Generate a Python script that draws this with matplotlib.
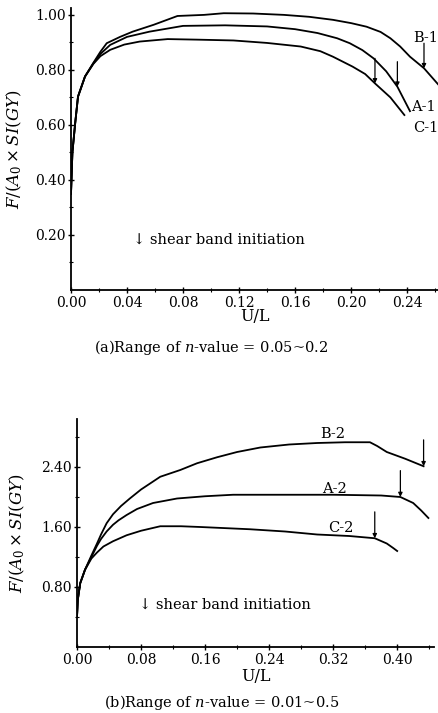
import numpy as np
import matplotlib
matplotlib.use("Agg")
import matplotlib.pyplot as plt
from matplotlib.ticker import FixedLocator

plt.rcParams['font.family'] = ['DejaVu Serif']
plt.rcParams['mathtext.fontset'] = 'dejavuserif'

# ---------------- data: panel (a) ----------------
a_B1_x = [0.0, 0.001, 0.003, 0.005, 0.010, 0.016, 0.021, 0.0255, 0.035, 0.044, 0.059, 0.076, 0.095, 0.109, 0.130, 0.152, 0.170, 0.187, 0.200, 0.211, 0.221, 0.228, 0.235, 0.242, 0.252, 0.262]
a_B1_y = [0.35, 0.50, 0.607, 0.703, 0.776, 0.826, 0.866, 0.897, 0.920, 0.939, 0.964, 0.996, 1.000, 1.006, 1.005, 1.000, 0.993, 0.982, 0.970, 0.957, 0.938, 0.915, 0.885, 0.848, 0.806, 0.748]
a_A1_x = [0.0, 0.001, 0.003, 0.005, 0.010, 0.016, 0.021, 0.028, 0.040, 0.056, 0.080, 0.110, 0.140, 0.160, 0.176, 0.190, 0.199, 0.208, 0.216, 0.225, 0.233, 0.242]
a_A1_y = [0.35, 0.50, 0.607, 0.703, 0.776, 0.824, 0.858, 0.891, 0.920, 0.939, 0.960, 0.962, 0.958, 0.948, 0.934, 0.915, 0.897, 0.872, 0.842, 0.795, 0.739, 0.650]
a_C1_x = [0.0, 0.001, 0.003, 0.005, 0.010, 0.016, 0.021, 0.028, 0.038, 0.049, 0.069, 0.090, 0.116, 0.140, 0.164, 0.178, 0.187, 0.201, 0.210, 0.217, 0.228, 0.238]
a_C1_y = [0.35, 0.50, 0.607, 0.703, 0.776, 0.822, 0.850, 0.873, 0.892, 0.903, 0.912, 0.910, 0.907, 0.898, 0.885, 0.868, 0.848, 0.812, 0.785, 0.751, 0.700, 0.636]
a_arrow_x = [0.252, 0.233, 0.217]
a_labels = ["B-1", "A-1", "C-1"]
a_label_x = [0.2445, 0.2425, 0.2445]
a_label_y = [0.915, 0.665, 0.590]

# ---------------- data: panel (b) ----------------
b_B2_x = [0.0, 0.001, 0.004, 0.010, 0.018, 0.025, 0.030, 0.037, 0.045, 0.055, 0.066, 0.080, 0.104, 0.129, 0.150, 0.175, 0.200, 0.229, 0.265, 0.300, 0.335, 0.366, 0.375, 0.387, 0.410, 0.433]
b_B2_y = [0.40, 0.63, 0.85, 1.03, 1.22, 1.38, 1.50, 1.65, 1.77, 1.88, 1.98, 2.10, 2.27, 2.36, 2.45, 2.53, 2.60, 2.66, 2.70, 2.72, 2.73, 2.73, 2.68, 2.60, 2.51, 2.41]
b_A2_x = [0.0, 0.001, 0.004, 0.010, 0.018, 0.025, 0.030, 0.037, 0.045, 0.052, 0.062, 0.075, 0.095, 0.125, 0.160, 0.195, 0.260, 0.320, 0.380, 0.404, 0.412, 0.420, 0.430, 0.439]
b_A2_y = [0.40, 0.63, 0.85, 1.03, 1.20, 1.35, 1.44, 1.54, 1.63, 1.69, 1.76, 1.84, 1.92, 1.98, 2.01, 2.03, 2.03, 2.03, 2.02, 2.00, 1.96, 1.92, 1.82, 1.72]
b_C2_x = [0.0, 0.001, 0.004, 0.010, 0.018, 0.025, 0.033, 0.045, 0.062, 0.080, 0.104, 0.130, 0.154, 0.216, 0.260, 0.300, 0.340, 0.372, 0.387, 0.395, 0.400]
b_C2_y = [0.40, 0.63, 0.85, 1.03, 1.18, 1.26, 1.34, 1.41, 1.49, 1.55, 1.61, 1.61, 1.60, 1.57, 1.54, 1.50, 1.48, 1.45, 1.38, 1.32, 1.28]
b_arrow_x = [0.433, 0.404, 0.372]
b_labels = ["B-2", "A-2", "C-2"]
b_label_x = [0.304, 0.306, 0.314]
b_label_y = [2.84, 2.10, 1.58]

fig = plt.figure(figsize=(4.38, 7.13), dpi=100)
W, H = 438.0, 713.0

# panel (a)
ax1 = fig.add_axes([71 / W, 1 - 290 / H, (438 - 71) / W, (290 - 8) / H])
ax1.set_xlim(0, 0.262)
ax1.set_ylim(0, 1.025)
curves_a = [(a_B1_x, a_B1_y), (a_A1_x, a_A1_y), (a_C1_x, a_C1_y)]
for (cx, cy), ax_, lab, lx, ly in zip(curves_a, a_arrow_x, a_labels, a_label_x, a_label_y):
    ax1.plot(cx, cy, color='black', lw=1.3)
    tip = np.interp(ax_, cx, cy)
    ax1.annotate('', xy=(ax_, tip), xytext=(0, 18), textcoords='offset points',
                 arrowprops=dict(arrowstyle='-|>', color='black', lw=0.9,
                                 mutation_scale=6, shrinkA=0, shrinkB=0))
    ax1.text(lx, ly, lab, fontsize=10.5, ha='left', va='center')
ax1.text(0.044, 0.182, u'\u2193 shear band initiation', fontsize=10.5, ha='left', va='center')

ax1.set_xticks([0.00, 0.04, 0.08, 0.12, 0.16, 0.20, 0.24])
ax1.set_xticklabels(['0.00', '0.04', '0.08', '0.12', '0.16', '0.20', '0.24'])
ax1.xaxis.set_minor_locator(FixedLocator([0.02, 0.06, 0.10, 0.14, 0.18, 0.22, 0.26]))
ax1.set_yticks([0.2, 0.4, 0.6, 0.8, 1.0])
ax1.set_yticklabels(['0.20', '0.40', '0.60', '0.80', '1.00'])
ax1.yaxis.set_minor_locator(FixedLocator([0.1, 0.3, 0.5, 0.7, 0.9]))
ax1.set_xlabel('U/L', fontsize=11.5, labelpad=-1)
ax1.set_ylabel(r'$F/(A_0\times SI(GY)$', fontsize=12, labelpad=8)

# panel (b)
ax2 = fig.add_axes([77 / W, 1 - 647 / H, (434 - 77) / W, (647 - 419) / H])
ax2.set_xlim(0, 0.446)
ax2.set_ylim(0, 3.04)
curves_b = [(b_B2_x, b_B2_y), (b_A2_x, b_A2_y), (b_C2_x, b_C2_y)]
for (cx, cy), ax_, lab, lx, ly in zip(curves_b, b_arrow_x, b_labels, b_label_x, b_label_y):
    ax2.plot(cx, cy, color='black', lw=1.3)
    tip = np.interp(ax_, cx, cy)
    ax2.annotate('', xy=(ax_, tip), xytext=(0, 19), textcoords='offset points',
                 arrowprops=dict(arrowstyle='-|>', color='black', lw=0.9,
                                 mutation_scale=6, shrinkA=0, shrinkB=0))
    ax2.text(lx, ly, lab, fontsize=10.5, ha='left', va='center')
ax2.text(0.078, 0.56, u'\u2193 shear band initiation', fontsize=10.5, ha='left', va='center')

ax2.set_xticks([0.00, 0.08, 0.16, 0.24, 0.32, 0.40])
ax2.set_xticklabels(['0.00', '0.08', '0.16', '0.24', '0.32', '0.40'])
ax2.xaxis.set_minor_locator(FixedLocator([0.04, 0.12, 0.20, 0.28, 0.36, 0.44]))
ax2.set_yticks([0.8, 1.6, 2.4])
ax2.set_yticklabels(['0.80', '1.60', '2.40'])
ax2.yaxis.set_minor_locator(FixedLocator([0.4, 1.2, 2.0, 2.8]))
ax2.set_xlabel('U/L', fontsize=11.5, labelpad=1)
ax2.set_ylabel(r'$F/(A_0\times SI(GY)$', fontsize=12, labelpad=10)

for ax in (ax1, ax2):
    ax.spines['top'].set_visible(False)
    ax.spines['right'].set_visible(False)
    ax.spines['left'].set_linewidth(1.3)
    ax.spines['bottom'].set_linewidth(1.3)
    ax.tick_params(axis='both', which='major', direction='inout', length=4, width=1, labelsize=10, pad=2)
    ax.tick_params(axis='both', which='minor', direction='inout', length=3, width=0.8)

fig.text(211 / W, 1 - 347 / H, r'(a)Range of $n$-value = 0.05~0.2', fontsize=10.5, ha='center', va='center')
fig.text(222 / W, 1 - 702 / H, r'(b)Range of $n$-value = 0.01~0.5', fontsize=10.5, ha='center', va='center')

fig.savefig('out.png', dpi=100)
